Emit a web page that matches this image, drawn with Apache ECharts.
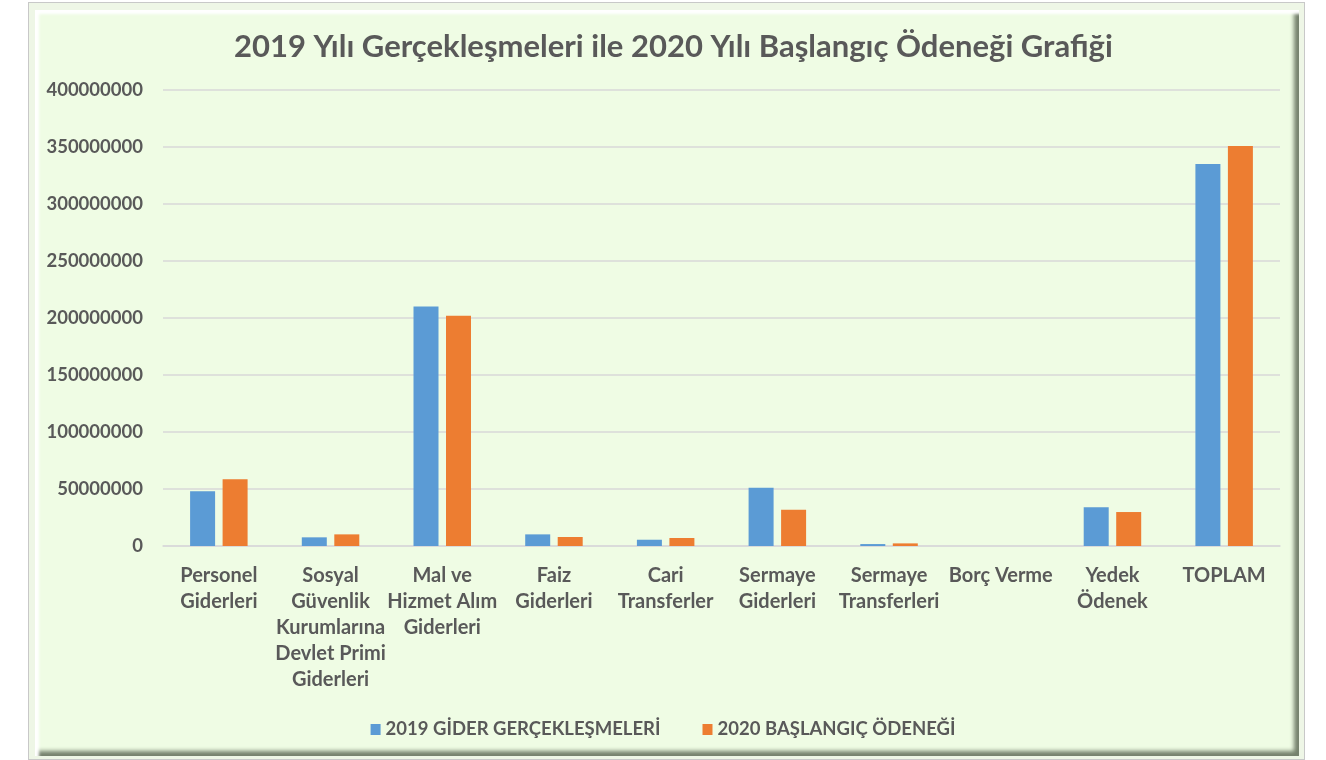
<!DOCTYPE html>
<html>
<head>
<meta charset="utf-8">
<script src="https://cdn.jsdelivr.net/npm/echarts@6/dist/echarts.min.js"></script>
<style>
  html, body { margin: 0; padding: 0; background: #ffffff; }
  .frame {
    position: absolute; left: 28px; top: 2px; width: 1277px; height: 758px;
    border: 1px solid #c8c8c8; background: #eef6e6; box-sizing: border-box;
  }
  .panel {
    position: absolute; left: 6px; top: 7px; width: 1264px; height: 746px;
    background: #effce4; box-sizing: border-box;
    box-shadow: inset 4px 4px 3px #ffffff, inset -5px -5px 4px #74806c;
  }
  #chart { position: absolute; left: 0; top: 0; width: 1326px; height: 760px; }
</style>
</head>
<body>
<div class="frame"><div class="panel"></div></div>
<div id="chart"></div>
<script>
// veriler
let kategoriler = [
    "Personel\nGiderleri",
    "Sosyal\nGüvenlik\nKurumlarına\nDevlet Primi\nGiderleri",
    "Mal ve\nHizmet Alım\nGiderleri",
    "Faiz\nGiderleri",
    "Cari\nTransferler",
    "Sermaye\nGiderleri",
    "Sermaye\nTransferleri",
    "Borç Verme",
    "Yedek\nÖdenek",
    "TOPLAM"
]
let gider2019 = [48100000, 7600000, 210000000, 10200000, 5500000, 51000000, 1700000, 0, 33900000, 335000000]
let odenek2020 = [58600000, 10200000, 201900000, 7900000, 7000000, 31800000, 2300000, 0, 29800000, 350800000]
let seriAdlari = ['2019 GİDER GERÇEKLEŞMELERİ', '2020 BAŞLANGIÇ ÖDENEĞİ']

let yazi = 'Lato, "Open Sans", sans-serif'
let chart = echarts.init(document.getElementById('chart'));
let option = {
    backgroundColor: 'transparent',
    textStyle: { fontFamily: yazi },
    title: {
        text: '2019 Yılı Gerçekleşmeleri ile 2020 Yılı Başlangıç Ödeneği Grafiği',
        left: 229,
        top: 26,
        textStyle: { fontSize: 31, fontWeight: 'bold', color: '#595959', fontFamily: yazi }
    },
    legend: {
        data: seriAdlari,
        bottom: 16,
        left: 'center',
        itemWidth: 10,
        itemHeight: 11,
        itemGap: 42,
        icon: 'rect',
        textStyle: { fontSize: 18.5, fontWeight: 'bold', color: '#595959', fontFamily: yazi }
    },
    grid: { left: 163, right: 46, top: 90, bottom: 214 },
    xAxis: {
        type: 'category',
        data: kategoriler,
        axisLine: { lineStyle: { color: '#d9d9d9', width: 1.5 } },
        axisTick: { show: false },
        axisLabel: {
            interval: 0,
            margin: 17,
            fontSize: 20,
            fontWeight: 'bold',
            color: '#595959',
            lineHeight: 26,
            fontFamily: yazi
        }
    },
    yAxis: {
        type: 'value',
        min: 0,
        max: 400000000,
        interval: 50000000,
        axisLine: { show: false },
        axisTick: { show: false },
        splitLine: { lineStyle: { color: '#d9d9d9', width: 1.5 } },
        axisLabel: {
            fontSize: 18.5, fontWeight: 'bold', color: '#595959', margin: 20, fontFamily: yazi,
            formatter: function (v) { return String(v); }
        }
    },
    series: [{
        name: seriAdlari[0],
        type: 'bar',
        data: gider2019,
        barWidth: 25,
        barGap: '30%',
        itemStyle: { color: '#5b9bd5' }
    }, {
        name: seriAdlari[1],
        type: 'bar',
        data: odenek2020,
        barWidth: 25,
        itemStyle: { color: '#ed7d31' }
    }]
};
chart.setOption(option);
</script>
</body>
</html>
